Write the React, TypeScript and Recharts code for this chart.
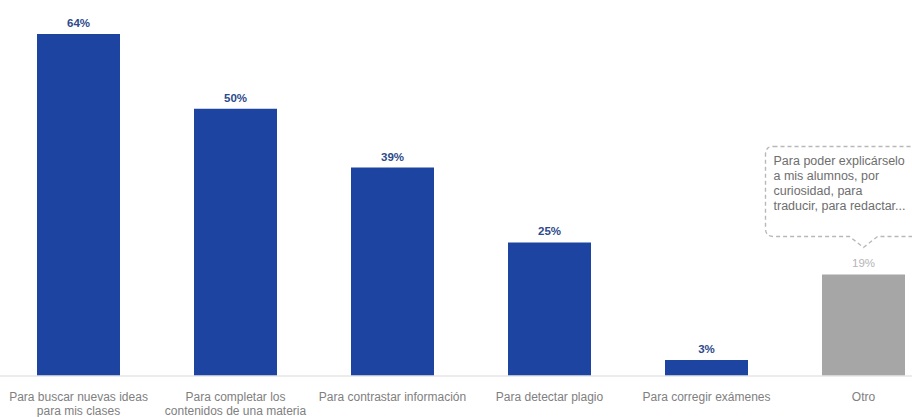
import React from "react";
import { BarChart, Bar, XAxis, YAxis, Cell, LabelList, ReferenceLine } from "recharts";

const categories = [
  "Para buscar nuevas ideas|para mis clases",
  "Para completar los|contenidos de una materia",
  "Para contrastar información",
  "Para detectar plagio",
  "Para corregir exámenes",
  "Otro",
];
const values = [64, 50, 39, 25, 3, 19];
const barColors = ["#1d44a0", "#1d44a0", "#1d44a0", "#1d44a0", "#1d44a0", "#a6a6a6"];
const labelColors = ["#2c4a8c", "#2c4a8c", "#2c4a8c", "#2c4a8c", "#2c4a8c", "#b5b5b5"];
const calloutLines = [
  "Para poder explicárselo",
  "a mis alumnos, por",
  "curiosidad, para",
  "traducir, para redactar...",
];

const data = categories.map((c, i) => ({ name: c, value: values[i] }));

const FONT = "'Liberation Sans', Arial, sans-serif";

const Tick = (props: any) => {
  const { x, y, payload } = props;
  const lines = String(payload.value).split("|");
  return (
    <g>
      {lines.map((l, i) => (
        <text
          key={i}
          x={x}
          y={y + 17 + i * 13.5}
          textAnchor="middle"
          fill="#808080"
          fontSize={12}
          fontFamily={FONT}
        >
          {l}
        </text>
      ))}
    </g>
  );
};

const ValueLabel = (props: any) => {
  const { x, y, width, index, value } = props;
  const cx = x + width / 2;
  const label = (
    <text
      x={cx}
      y={y - 7}
      textAnchor="middle"
      fill={labelColors[index]}
      fontSize={11.5}
      fontWeight={index === 5 ? "normal" : "bold"}
      fontFamily={FONT}
    >
      {value}%
    </text>
  );
  if (index !== 5) return label;
  const left = cx - 98;
  const right = cx + 70;
  const top = y - 128;
  const bottom = y - 38;
  const tipY = y - 27;
  const r = 8;
  const path = `M ${left + r} ${top} L ${right} ${top} M ${right} ${bottom} L ${cx + 14} ${bottom} L ${cx} ${tipY} L ${cx - 14} ${bottom} L ${left + r} ${bottom} Q ${left} ${bottom} ${left} ${bottom - r} L ${left} ${top + r} Q ${left} ${top} ${left + r} ${top}`;
  return (
    <g>
      {label}
      <path d={path} fill="none" stroke="#b8b8b8" strokeWidth={1.4} strokeDasharray="4 3" />
      {calloutLines.map((l, i) => (
        <text
          key={i}
          x={left + 8}
          y={top + 19 + i * 15}
          fill="#6e6e6e"
          fontSize={12.5}
          fontFamily={FONT}
        >
          {l}
        </text>
      ))}
    </g>
  );
};

export default function App() {
  return (
    <div
      style={{
        position: "absolute",
        left: 0,
        top: 0,
        width: 912,
        height: 417,
        overflow: "hidden",
        background: "#ffffff",
      }}
    >
      <BarChart
        width={942}
        height={417}
        data={data}
        margin={{ top: 34, right: 0, bottom: 0, left: 0 }}
        barSize={83}
      >
        <XAxis
          dataKey="name"
          axisLine={false}
          tickLine={false}
          interval={0}
          height={41}
          tick={<Tick />}
        />
        <YAxis hide domain={[0, 64]} />
        <ReferenceLine y={0} stroke="#e6e6e6" strokeWidth={1.5} />
        <Bar dataKey="value" isAnimationActive={false}>
          {data.map((d, i) => (
            <Cell key={i} fill={barColors[i]} />
          ))}
          <LabelList dataKey="value" content={<ValueLabel />} />
        </Bar>
      </BarChart>
    </div>
  );
}
